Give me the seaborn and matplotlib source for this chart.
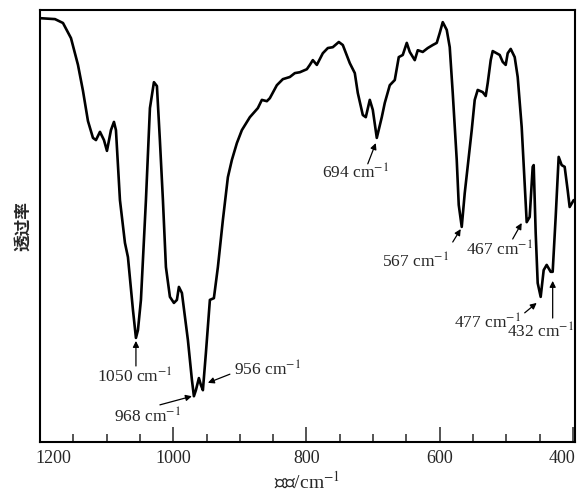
import numpy as np
import pandas as pd
import matplotlib
matplotlib.use("Agg")
import matplotlib.pyplot as plt
import matplotlib.transforms as mtransforms
import seaborn as sns

# ============================
#  DATA
# ============================
wavenumber = [
    1198.5, 1177.5, 1165.5, 1153.5, 1143, 1135.5, 1128, 1120.5, 1116, 1110,
    1104, 1099.5, 1093.5, 1089, 1086, 1080, 1072.5, 1068, 1060.5, 1056,
    1053, 1048.5, 1041, 1035, 1029, 1024.5, 1020, 1015.5, 1011, 1005,
    999, 994.5, 991.5, 987, 978, 972, 969, 966, 961.5, 958.5,
    955.5, 951, 945, 939, 933, 925.5, 918, 912, 904.5, 897,
    885, 873, 867, 859.5, 855, 844.5, 835.5, 825, 817.5, 810,
    802.5, 799.5, 795, 790.5, 784.5, 775.5, 768, 760.5, 751.5, 745.5,
    735, 727.5, 723, 715.5, 711, 705, 700.5, 694.5, 687, 682.5,
    675, 667.5, 661.5, 655.5, 649.5, 645, 637.5, 633, 625.5, 618,
    610.5, 604.5, 600, 595.5, 589.5, 585, 580.5, 574.5, 571.5, 567,
    562.5, 559.5, 552, 547.5, 543, 535.5, 531, 528, 523.5, 520.5,
    514.5, 510, 505.5, 501, 498, 493.5, 487.5, 483, 477, 471,
    469.5, 465, 460.5, 459, 456, 453, 448.5, 444, 439.5, 433.5,
    430.5, 426, 421.5, 417, 412.5, 408, 405, 399,
]
transmittance = [
    98.1, 97.9, 97.0, 93.5, 87.3, 81.3, 74.3, 70.4, 69.9, 71.8,
    69.9, 67.4, 72.2, 74.1, 72.2, 56.0, 46.1, 42.8, 30.6, 24.1,
    25.9, 32.9, 56.0, 77.3, 83.3, 82.4, 69.7, 56.0, 40.5, 33.6,
    32.2, 32.9, 35.9, 34.5, 23.6, 14.4, 10.6, 12.0, 14.8, 13.2,
    12.0, 20.6, 32.9, 33.3, 40.5, 51.4, 61.3, 65.3, 69.2, 72.2,
    75.2, 77.3, 79.2, 78.9, 79.6, 82.6, 84.0, 84.5, 85.4, 85.6,
    86.1, 86.3, 87.3, 88.4, 87.3, 90.0, 91.2, 91.4, 92.6, 91.9,
    87.7, 85.4, 80.8, 75.7, 75.2, 79.2, 76.9, 70.4, 75.2, 78.5,
    82.6, 83.8, 89.1, 89.6, 92.4, 90.3, 88.4, 90.7, 90.3, 91.2,
    91.9, 92.4, 94.7, 97.2, 95.4, 91.4, 80.8, 65.3, 54.9, 49.8,
    57.6, 61.8, 72.2, 79.2, 81.5, 81.0, 80.1, 83.1, 88.4, 90.5,
    90.0, 89.6, 88.0, 87.3, 90.0, 91.0, 89.1, 84.5, 72.9, 54.9,
    50.9, 52.1, 63.7, 64.1, 48.4, 36.8, 33.6, 39.8, 41.0, 39.4,
    39.4, 52.1, 66.0, 64.1, 63.7, 58.3, 54.4, 56.0,
]

peak_labels = ["1050", "968", "956", "694", "567", "467", "477", "432"]

# label layout: text centre, arrow tail, arrow head (data coords)
label_text_xy = [(1057, 15.0), (1038, 5.8), (858, 16.7), (726, 62.3),
                 (636, 41.7), (510, 44.4), (528, 27.5), (448, 25.5)]
arrow_tail_xy = [(1056, 17.6), (1020, 8.6), (915, 15.7), (708, 64.4),
                 (580.5, 46.3), (490.5, 47.0), (472.5, 29.9), (430.5, 28.7)]
arrow_head_xy = [(1056, 23.4), (972, 10.6), (948, 13.7), (696, 69.2),
                 (568.5, 49.3), (477, 50.7), (454.5, 32.2), (430.5, 37.3)]

df = pd.DataFrame({"wavenumber": wavenumber, "T": transmittance})

# ============================
#  PLOT
# ============================
sns.set_style("ticks")
plt.rcParams["font.family"] = ["Liberation Serif", "Noto Sans CJK SC"]
plt.rcParams["mathtext.fontset"] = "stix"

fig = plt.figure(figsize=(5.78, 4.92), dpi=100)
ax = fig.add_axes([0.0692, 0.1016, 0.9256, 0.878])

sns.lineplot(data=df, x="wavenumber", y="T", sort=False, estimator=None,
             color="black", linewidth=1.9, ax=ax)

ax.set_xlim(1200, 397)
ax.set_ylim(0, 100)
ax.set_xticks([1200, 1000, 800, 600, 400])
ax.set_xticks(np.arange(1150, 397, -50), minor=True)
ax.set_yticks([])
ax.tick_params(axis="x", which="major", direction="in", length=11, width=1.1,
               labelsize=13, pad=6, top=False)
ax.tick_params(axis="x", which="minor", direction="in", length=6, width=1.1,
               top=False)
for sp in ax.spines.values():
    sp.set_visible(True)
    sp.set_linewidth(1.5)
    sp.set_color("black")

# first tick label sits a little right of its tick, as in the reference
lab0 = ax.get_xticklabels()[0]
lab0.set_transform(lab0.get_transform() +
                   mtransforms.ScaledTranslation(13 / 100, 0, fig.dpi_scale_trans))
# last one pulled left so it stays on the canvas
labn = ax.get_xticklabels()[-1]
labn.set_transform(labn.get_transform() +
                   mtransforms.ScaledTranslation(-11 / 100, 0, fig.dpi_scale_trans))

ax.set_xlabel("波数/cm$^{-1}$", fontsize=14, labelpad=2)
ax.set_ylabel("透过率", fontsize=12, fontweight="bold",
              family=["Noto Sans CJK SC"], labelpad=6)

for lab, txy, tail, head in zip(peak_labels, label_text_xy, arrow_tail_xy, arrow_head_xy):
    ax.text(txy[0], txy[1], f"{lab} cm$^{{-1}}$", fontsize=12.5,
            ha="center", va="center")
    ax.annotate("", xy=head, xytext=tail,
                arrowprops=dict(arrowstyle="-|>", color="black", lw=0.9,
                                mutation_scale=9, shrinkA=0, shrinkB=0))

plt.savefig("out.png", dpi=100)
plt.close()
